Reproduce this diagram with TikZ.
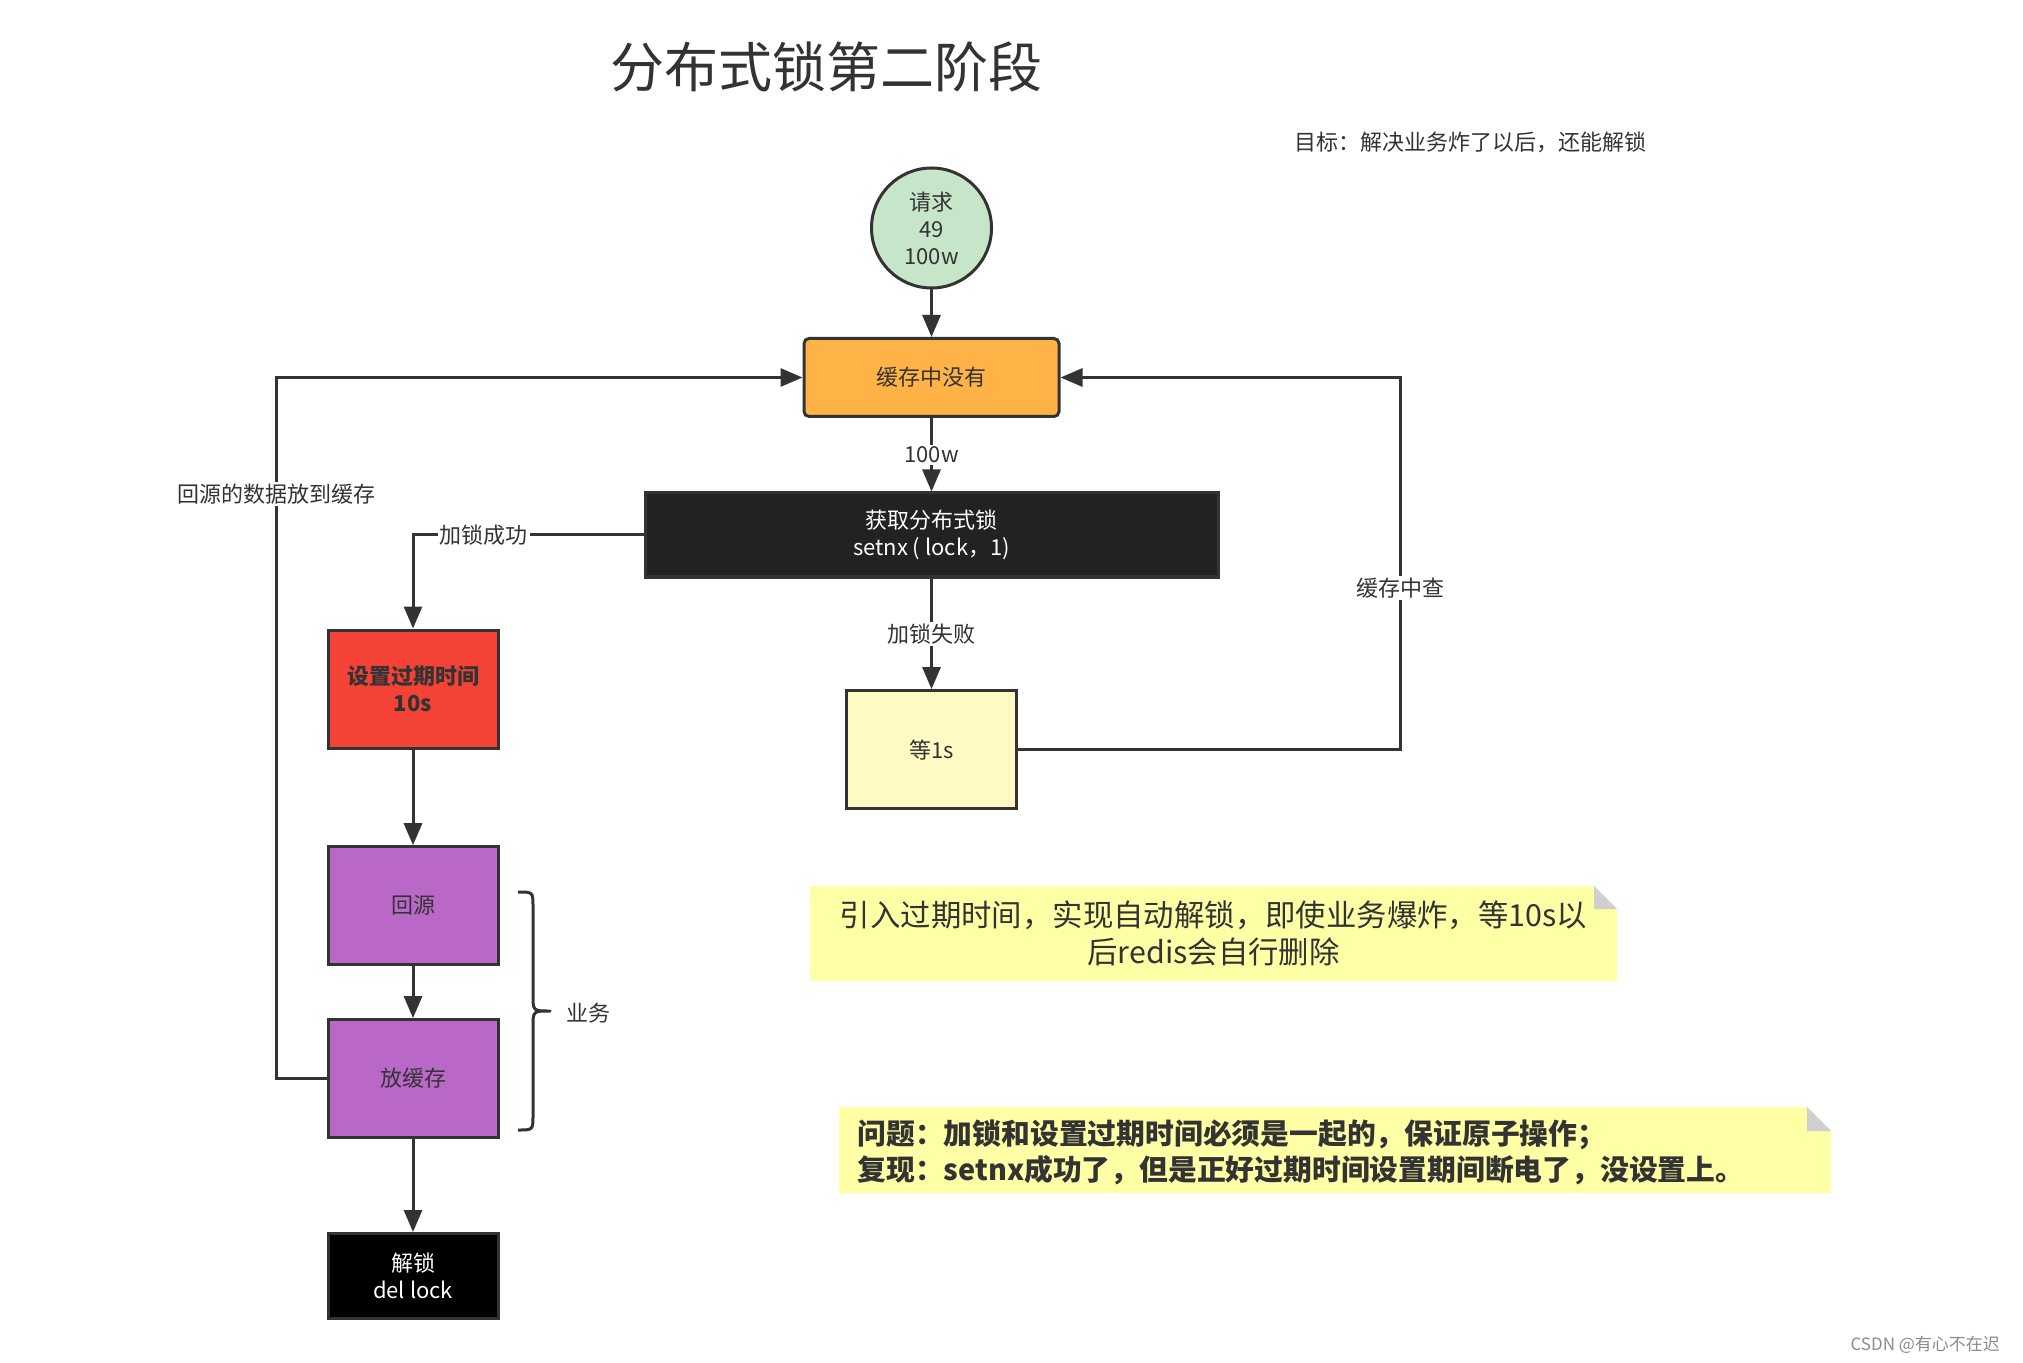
\documentclass[tikz,border=0pt]{standalone}
\usepackage{fontspec}
\setmainfont{Noto Sans CJK SC}
\usetikzlibrary{arrows.meta}
\definecolor{ln}{HTML}{333333}
\definecolor{cgreen}{HTML}{C6E5C9}
\definecolor{corange}{HTML}{FFB347}
\definecolor{cblack}{HTML}{222222}
\definecolor{cred}{HTML}{F44336}
\definecolor{cpurple}{HTML}{BA68C8}
\definecolor{cwait}{HTML}{FFF9C4}
\definecolor{cnote}{HTML}{FFFFA6}
\definecolor{cfold}{HTML}{CFCFCF}
\begin{document}
\begin{tikzpicture}[x=0.5pt,y=-0.5pt,
  conn/.style={draw=ln, line width=1.5pt},
  arr/.style={conn, -{Triangle[length=11pt,width=9pt]}},
  box/.style={draw=ln, line width=1.5pt, inner sep=0pt, align=center,
    font=\fontsize{11pt}{13.5pt}\selectfont, text=ln},
  sqbox/.style={box, minimum width=85pt, minimum height=59pt},
  lbl/.style={fill=white, inner sep=1pt, font=\fontsize{11pt}{13.5pt}\selectfont, text=ln},
  notetext/.style={inner sep=0pt, text=ln},
]
\path[use as bounding box, fill=white] (0,0) rectangle (2023,1363);

% title and subtitle
\node[text=ln, font=\fontsize{27pt}{32pt}\selectfont] (title) at (826,67) {分布式锁第二阶段};
\node[text=ln, font=\fontsize{11pt}{13.5pt}\selectfont] (goal) at (1470,142) {目标：解决业务炸了以后，还能解锁};

% nodes
\node[box, circle, fill=cgreen, minimum size=60pt] (req) at (931.5,228) {请求\\49\\100w};
\node[box, fill=corange, rounded corners=2.5pt, minimum width=127.5pt, minimum height=39pt] (cache) at (931.5,377.5) {缓存中没有};
\node[box, fill=cblack, text=white, minimum width=286.5pt, minimum height=42pt] (lock) at (931.5,535) {获取分布式锁\\setnx ( lock，1)};
\node[sqbox, fill=cred, font=\fontsize{11pt}{13.5pt}\selectfont\bfseries] (expire) at (413,689) {设置过期时间\\10s};
\node[sqbox, fill=cpurple] (src) at (413,905.7) {回源};
\node[sqbox, fill=cpurple] (put) at (413,1078.6) {放缓存};
\node[box, fill=black, text=white, minimum width=85pt, minimum height=42.5pt] (unlock) at (413,1276) {解锁\\del lock};
\node[sqbox, fill=cwait] (wait) at (931.5,749.6) {等1s};

% connectors
\draw[arr] (req) -- (cache);
\draw[arr] (cache) -- node[lbl]{100w} (lock);
\draw[arr] (lock) -- node[lbl]{加锁失败} (wait);
\draw[arr] (lock.west) -- node[lbl, pos=0.694]{加锁成功} (lock.west -| expire.north) -- (expire.north);
\draw[arr] (expire) -- (src);
\draw[arr] (src) -- (put);
\draw[arr] (put) -- (unlock);
\draw[arr] (put.west) -- ++(-50,0) |- node[lbl, pos=0.417]{回源的数据放到缓存} (cache.west);
\draw[arr] (wait.east) -- ++(382,0) |- node[lbl, pos=0.217]{缓存中查} (cache.east);

% brace
\coordinate (btip) at (550,1011);
\draw[conn, line join=round] (518,892) .. controls (533,892) .. (533,907) -- (533,995)
  .. controls (533,1011) .. (btip) .. controls (533,1011) .. (533,1027) -- (533,1115)
  .. controls (533,1130) .. (518,1130);
\node[lbl, anchor=west] (biz) at (564,1013) {业务};

% note 1
\fill[cnote] (810,886) -- (1594,886) -- (1617,909) -- (1617,981) -- (810,981) -- cycle;
\fill[cfold] (1594,886) -- (1594,909) -- (1617,909) -- cycle;
\node[notetext, align=center, font=\fontsize{15.2pt}{18.5pt}\selectfont] (note1) at (1213.5,933.5)
  {引入过期时间，实现自动解锁，即使业务爆炸，等10s以\\后redis会自行删除};

% note 2
\fill[cnote] (839,1107) -- (1807,1107) -- (1831,1131) -- (1831,1193) -- (839,1193) -- cycle;
\fill[cfold] (1807,1107) -- (1807,1131) -- (1831,1131) -- cycle;
\node[notetext, align=left, anchor=west, font=\fontsize{14.4pt}{18pt}\selectfont\bfseries] (note2) at (857,1152)
  {问题：加锁和设置过期时间必须是一起的，保证原子操作；\\复现：setnx成功了，但是正好过期时间设置期间断电了，没设置上。};

% footer
\node[text=black!45, font=\fontsize{8.5pt}{10pt}\selectfont, anchor=east] (csdn) at (2007,1345) {CSDN @有心不在迟};
\end{tikzpicture}
\end{document}
